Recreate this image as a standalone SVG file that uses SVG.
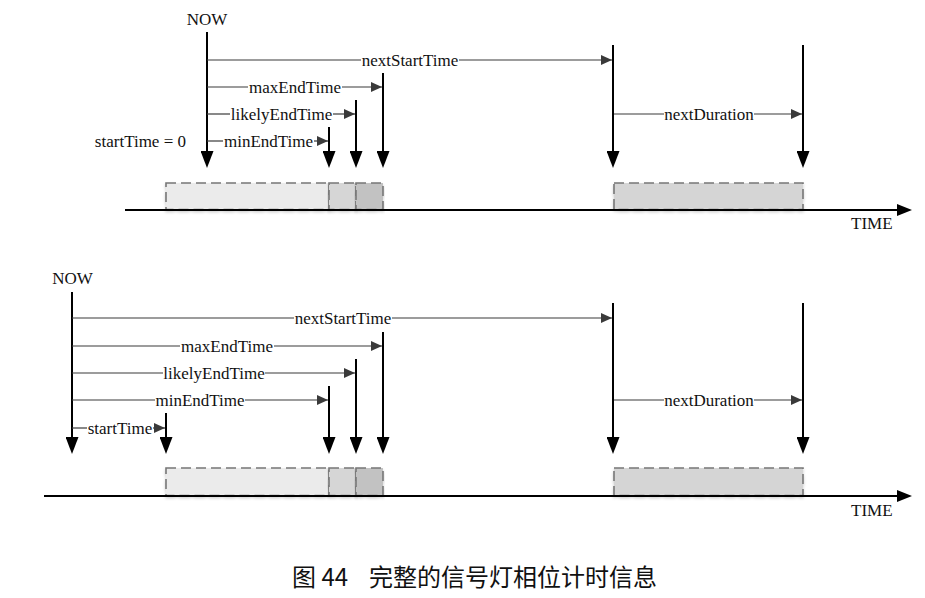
<svg xmlns="http://www.w3.org/2000/svg" width="925" height="598" viewBox="0 0 925 598">
<style>
  .lbl { font-family: "Liberation Serif", "Times New Roman", serif; font-size: 17px; fill: #111; }
  .mid { text-anchor: middle; }
  .end { text-anchor: end; }
  .thin { stroke: #3a3a3a; stroke-width: 1.2; fill: none; }
  .thinA { stroke: #3a3a3a; stroke-width: 1.2; fill: none; marker-end: url(#ta); }
  .thick { stroke: #000; stroke-width: 2; fill: none; marker-end: url(#ka); }
  .axis { stroke: #000; stroke-width: 2; fill: none; marker-end: url(#xa); }
  .bar { stroke: #777; stroke-width: 1.6; stroke-dasharray: 10 5; filter: url(#sh); }
  .b1 { fill: #ebebeb; } .b2 { fill: #d6d6d6; } .b3 { fill: #c2c2c2; } .b4 { fill: #d5d5d5; }
  .cap { font-family: "Noto Sans CJK SC", "Liberation Sans", sans-serif; font-size: 24px; fill: #111; }
</style>
<defs>
  <marker id="ta" markerUnits="userSpaceOnUse" markerWidth="11" markerHeight="10" viewBox="0 0 11 10" refX="11" refY="5" orient="auto">
    <path d="M0,0 L11,5 L0,10 z" fill="#3a3a3a"/>
  </marker>
  <marker id="ka" markerUnits="userSpaceOnUse" markerWidth="17" markerHeight="13" viewBox="0 0 17 13" refX="13" refY="6.5" orient="auto">
    <path d="M0,0 L17,6.5 L0,13 z" fill="#000"/>
  </marker>
  <marker id="xa" markerUnits="userSpaceOnUse" markerWidth="15" markerHeight="12" viewBox="0 0 15 12" refX="11" refY="6" orient="auto">
    <path d="M0,0 L15,6 L0,12 z" fill="#000"/>
  </marker>
  <filter id="sh" x="-5%" y="-20%" width="110%" height="150%">
    <feDropShadow dx="0" dy="2" stdDeviation="1.5" flood-color="#000" flood-opacity="0.2"/>
  </filter>
</defs>
<rect width="925" height="598" fill="#fff"/>

<g id="top-bars">
  <rect class="bar b1" x="166" y="183" width="163" height="26.5"/>
  <rect class="bar b2" x="329" y="183" width="27" height="26.5"/>
  <rect class="bar b3" x="356" y="183" width="27" height="26.5"/>
  <rect class="bar b4" x="614" y="183" width="189" height="26.5"/>
</g>
<g id="bottom-bars">
  <rect class="bar b1" x="166" y="468" width="163" height="27.5"/>
  <rect class="bar b2" x="329" y="468" width="27" height="27.5"/>
  <rect class="bar b3" x="356" y="468" width="27" height="27.5"/>
  <rect class="bar b4" x="614" y="468" width="189" height="27.5"/>
</g>

<g id="connectors">
  <line class="axis" x1="125" y1="210" x2="908" y2="210"/>
  <line class="thick" x1="207" y1="32" x2="207" y2="164"/>
  <line class="thick" x1="329" y1="127" x2="329" y2="164"/>
  <line class="thick" x1="356" y1="100" x2="356" y2="164"/>
  <line class="thick" x1="383" y1="73" x2="383" y2="164"/>
  <line class="thick" x1="613" y1="45" x2="613" y2="164"/>
  <line class="thick" x1="803" y1="45" x2="803" y2="164"/>
  <line class="thin" x1="207" y1="60" x2="361" y2="60"/>
  <line class="thinA" x1="459" y1="60" x2="612" y2="60"/>
  <line class="thin" x1="207" y1="87" x2="248" y2="87"/>
  <line class="thinA" x1="342" y1="87" x2="382" y2="87"/>
  <line class="thin" x1="207" y1="114" x2="230" y2="114"/>
  <line class="thinA" x1="333" y1="114" x2="355" y2="114"/>
  <line class="thin" x1="207" y1="141" x2="223" y2="141"/>
  <line class="thinA" x1="314" y1="141" x2="328" y2="141"/>
  <line class="thin" x1="614" y1="114" x2="664" y2="114"/>
  <line class="thinA" x1="754" y1="114" x2="802" y2="114"/>

  <line class="axis" x1="44" y1="496" x2="908" y2="496"/>
  <line class="thick" x1="72" y1="292" x2="72" y2="450"/>
  <line class="thick" x1="166" y1="413" x2="166" y2="450"/>
  <line class="thick" x1="329" y1="386" x2="329" y2="450"/>
  <line class="thick" x1="356" y1="359" x2="356" y2="450"/>
  <line class="thick" x1="383" y1="332" x2="383" y2="450"/>
  <line class="thick" x1="613" y1="303" x2="613" y2="450"/>
  <line class="thick" x1="803" y1="303" x2="803" y2="450"/>
  <line class="thin" x1="72" y1="318" x2="294" y2="318"/>
  <line class="thinA" x1="392" y1="318" x2="612" y2="318"/>
  <line class="thin" x1="72" y1="346" x2="180" y2="346"/>
  <line class="thinA" x1="274" y1="346" x2="382" y2="346"/>
  <line class="thin" x1="72" y1="373" x2="163" y2="373"/>
  <line class="thinA" x1="265" y1="373" x2="355" y2="373"/>
  <line class="thin" x1="72" y1="400" x2="155" y2="400"/>
  <line class="thinA" x1="245" y1="400" x2="328" y2="400"/>
  <line class="thin" x1="72" y1="428" x2="87" y2="428"/>
  <line class="thinA" x1="153" y1="428" x2="165" y2="428"/>
  <line class="thin" x1="614" y1="400" x2="664" y2="400"/>
  <line class="thinA" x1="754" y1="400" x2="802" y2="400"/>
</g>

<g id="top-labels" class="lbl" font-family="'Liberation Serif', 'Times New Roman', serif" font-size="17">
  <text class="mid" x="207" y="25">NOW</text>
  <text class="mid" x="410" y="66">nextStartTime</text>
  <text class="mid" x="295" y="93">maxEndTime</text>
  <text class="mid" x="281.5" y="120">likelyEndTime</text>
  <text class="mid" x="268.5" y="147">minEndTime</text>
  <text class="end" x="186" y="147">startTime = 0</text>
  <text class="mid" x="709" y="120">nextDuration</text>
  <text x="851" y="229">TIME</text>
</g>

<g id="bottom-labels" class="lbl" font-family="'Liberation Serif', 'Times New Roman', serif" font-size="17">
  <text class="mid" x="72.5" y="284">NOW</text>
  <text class="mid" x="343" y="324">nextStartTime</text>
  <text class="mid" x="227" y="352">maxEndTime</text>
  <text class="mid" x="214" y="379">likelyEndTime</text>
  <text class="mid" x="200" y="406">minEndTime</text>
  <text class="mid" x="120" y="434">startTime</text>
  <text class="mid" x="709" y="406">nextDuration</text>
  <text x="851" y="516">TIME</text>
</g>

<g id="caption">
  <text class="cap" y="586"><tspan x="292">图 44</tspan><tspan x="369">完整的信号灯相位计时信息</tspan></text>
</g>
</svg>
